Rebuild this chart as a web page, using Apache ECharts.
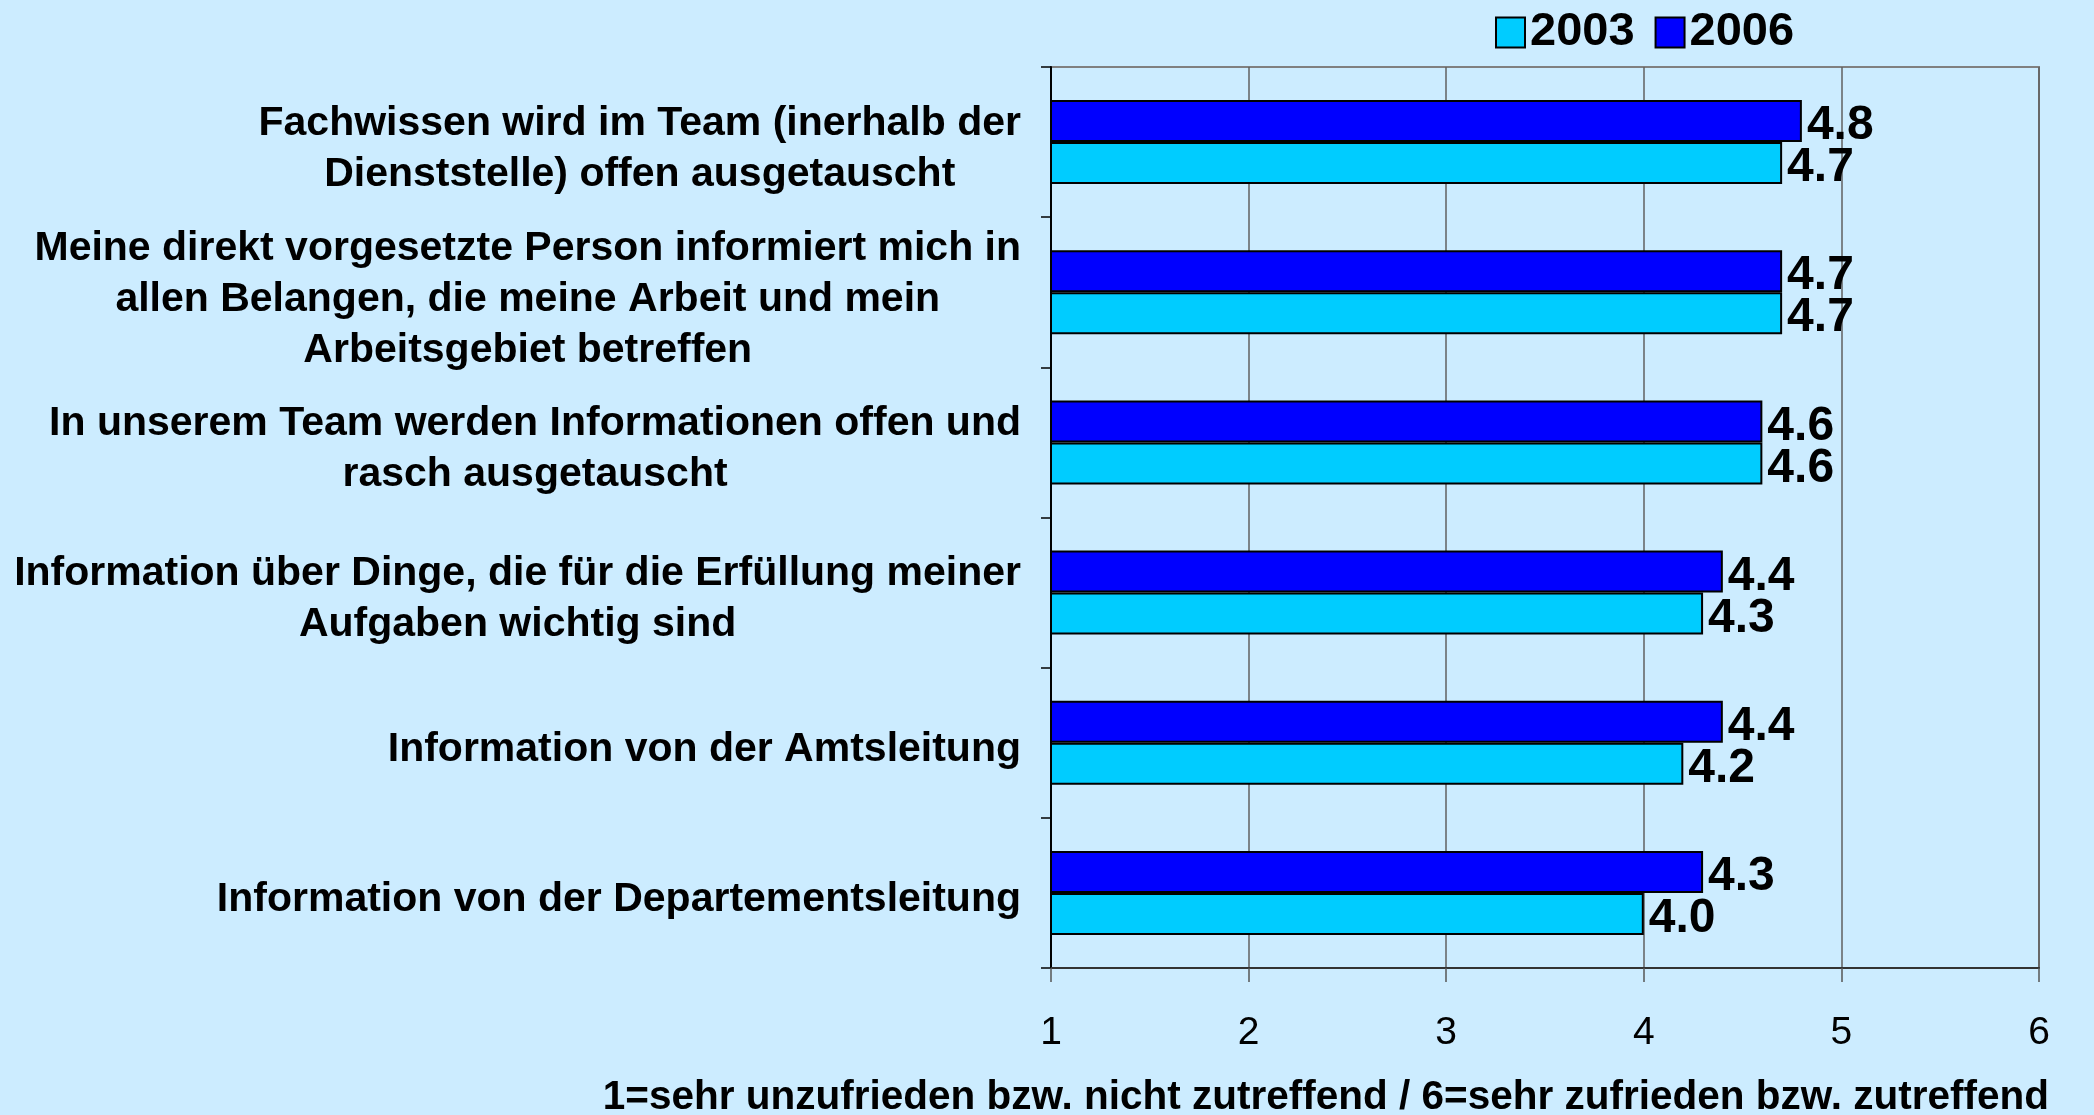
<!DOCTYPE html>
<html>
<head>
<meta charset="utf-8">
<script src="https://cdn.jsdelivr.net/npm/echarts@6/dist/echarts.min.js"></script>
<style>
  html, body { margin: 0; padding: 0; background: #CCECFF; }
  #chart { width: 2094px; height: 1115px; }
</style>
</head>
<body>
<div id="chart"></div>
<script>
var categories = [
  'Fachwissen wird im Team (inerhalb der\nDienststelle) offen ausgetauscht',
  'Meine direkt vorgesetzte Person informiert mich in\nallen Belangen, die meine Arbeit und mein\nArbeitsgebiet betreffen',
  'In unserem Team werden Informationen offen und\nrasch ausgetauscht',
  'Information über Dinge, die für die Erfüllung meiner\nAufgaben wichtig sind',
  'Information von der Amtsleitung',
  'Information von der Departementsleitung'
];
var values2003 = [4.7, 4.7, 4.6, 4.3, 4.2, 4.0];
var values2006 = [4.8, 4.7, 4.6, 4.4, 4.4, 4.3];
var xTicks = [1, 2, 3, 4, 5, 6];
var axisNote = '1=sehr unzufrieden bzw. nicht zutreffend / 6=sehr zufrieden bzw. zutreffend';

var FONT = 'Liberation Sans, Arial, sans-serif';

var chart = echarts.init(document.getElementById('chart'));

var barLabel = {
  show: true,
  position: 'right',
  distance: 5,
  offset: [0, 5],
  color: '#000',
  fontFamily: FONT,
  fontWeight: 'bold',
  fontSize: 48,
  formatter: function (p) { return p.value.toFixed(1); }
};

chart.setOption({
  backgroundColor: '#CCECFF',
  animation: false,
  textStyle: { fontFamily: FONT },
  title: {
    text: axisNote,
    right: 40,
    top: 1072,
    textStyle: { fontFamily: FONT, fontWeight: 'bold', fontSize: 40.5, color: '#000' }
  },
  legend: {
    data: ['2003', '2006'],
    left: 1490,
    top: 4,
    icon: 'rect',
    itemWidth: 29,
    itemHeight: 30,
    itemGap: 20,
    textStyle: { fontFamily: FONT, fontWeight: 'bold', fontSize: 47, color: '#000', padding: [0, 0, 0, 0] },
    itemStyle: { borderColor: '#000', borderWidth: 2 }
  },
  grid: {
    left: 1051,
    right: 55,
    top: 67,
    bottom: 147,
    show: true,
    borderColor: '#808080',
    borderWidth: 2,
    backgroundColor: 'transparent'
  },
  xAxis: {
    type: 'value',
    min: 1,
    max: 6,
    interval: 1,
    axisLine: { show: true, lineStyle: { color: '#333', width: 2 } },
    axisTick: { show: true, length: 14, lineStyle: { color: '#555', width: 1.5 } },
    splitLine: { show: true, lineStyle: { color: '#606060', width: 1.5 } },
    axisLabel: {
      margin: 46,
      color: '#000',
      fontFamily: FONT,
      fontSize: 39,
      formatter: function (v) { return xTicks.indexOf(v) >= 0 ? String(v) : ''; }
    }
  },
  yAxis: {
    type: 'category',
    data: categories,
    inverse: true,
    axisLine: { show: true, lineStyle: { color: '#000', width: 2 } },
    axisTick: { show: true, length: 10, lineStyle: { color: '#000', width: 1.5 } },
    axisLabel: {
      margin: 30,
      align: 'right',
      padding: [14, 0, 0, 0],
      formatter: function (v) {
        return v.split('\n').map(function (l) { return '{c|' + l + '}'; }).join('\n');
      },
      rich: {
        c: {
          align: 'center',
          fontFamily: FONT,
          fontWeight: 'bold',
          fontSize: 41,
          lineHeight: 51,
          color: '#000'
        }
      }
    }
  },
  series: [
    {
      name: '2006',
      type: 'bar',
      data: values2006,
      barWidth: 42,
      barGap: '0%',
      itemStyle: { color: '#0000FF', borderColor: '#000', borderWidth: 2 },
      label: barLabel
    },
    {
      name: '2003',
      type: 'bar',
      data: values2003,
      barWidth: 42,
      barGap: '0%',
      itemStyle: { color: '#00CCFF', borderColor: '#000', borderWidth: 2 },
      label: barLabel
    }
  ]
});
</script>
</body>
</html>
